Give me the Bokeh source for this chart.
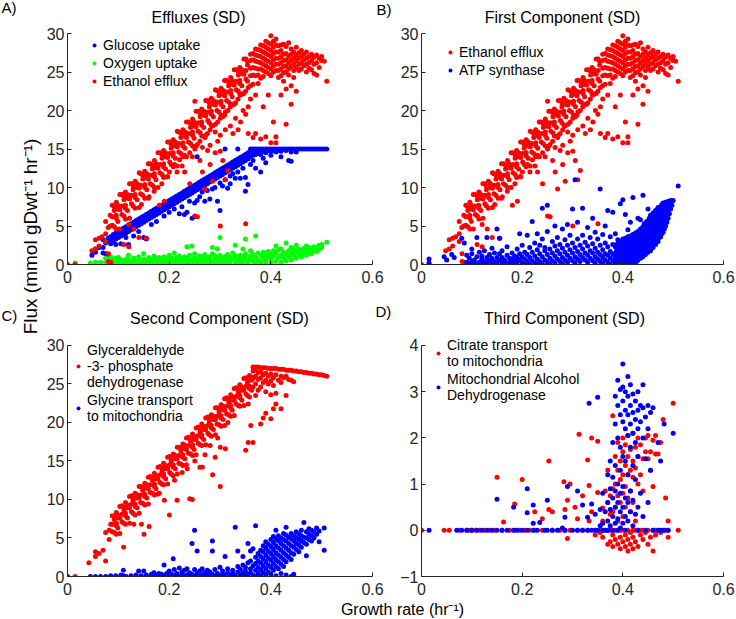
import math
from bokeh.plotting import figure
from bokeh.models import Range1d, FixedTicker, Label, Legend, LegendItem
from bokeh.layouts import column, row
from bokeh.embed import file_html
from bokeh.resources import INLINE

FONT = "Liberation Sans"
RED, BLUE, GREEN = "#ff0000", "#0000ff", "#00ff00"
AX = "#262626"

# ---------------- data ----------------
x_ticks = [0, 0.2, 0.4, 0.6]
x_tick_labels = ["0", "0.2", "0.4", "0.6"]
flux_ticks = [0, 5, 10, 15, 20, 25, 30]
third_ticks = [-1, 0, 1, 2, 3, 4]

titles = ["Effluxes (SD)", "First Component (SD)", "Second Component (SD)", "Third Component (SD)"]
panel_tags = ["A)", "B)", "C)", "D)"]
y_title = "Flux (mmol gDwt\u207b\u00b9 hr\u207b\u00b9)"
x_title = "Growth rate (hr\u207b\u00b9)"

# each entry: (growth rate, [flux values read at that growth rate])
ethanol_cols = [
 (0.000,[0.0]),(0.015,[0.0]),(0.048,[1.8]),(0.055,[2.0,3.2]),(0.062,[3.4,2.4]),(0.068,[3.6]),
 (0.075,[5.6,4.0,3.0]),(0.080,[4.8]),(0.084,[6.4,5.0]),
 (0.088,[7.7,6.2,5.1]),(0.092,[7.5,7.0,4.9]),(0.096,[8.1,6.4,6.0,4.6]),(0.099,[7.7,7.2,5.6]),(0.103,[9.1,7.1,4.6]),
 (0.107,[9.1,7.6,6.5]),(0.111,[8.9,8.4,6.3]),(0.114,[9.4,7.7,7.3,5.9]),(0.118,[9.1,8.6,7.0]),(0.122,[10.5,8.5,6.0]),
 (0.126,[10.5,9.0,7.9]),(0.129,[10.2,9.7,7.6]),(0.133,[10.8,9.1,8.7,7.3]),(0.137,[10.5,10.0,8.4]),(0.141,[11.9,9.9,7.4]),
 (0.144,[11.8,10.3,9.2]),(0.148,[11.6,11.1,9.0]),(0.152,[12.1,10.4,10.0,8.6]),(0.156,[11.8,11.3,9.7]),(0.159,[13.1,11.1,8.6]),
 (0.163,[13.1,11.6,10.5]),(0.167,[12.9,12.4,10.3]),(0.171,[13.5,11.8,11.4,10.0]),(0.174,[13.1,12.6,11.0]),(0.178,[14.5,12.5,10.0]),
 (0.182,[14.5,13.0,11.9]),(0.186,[14.3,13.8,11.7]),(0.189,[14.8,13.1,12.7,11.3]),(0.193,[14.5,14.0,12.4]),(0.197,[15.9,13.9,11.4]),
 (0.201,[15.9,14.4,13.3]),(0.204,[15.6,15.1,13.0]),(0.208,[16.2,14.5,14.1,12.7]),(0.212,[15.9,15.4,13.8]),(0.216,[17.3,15.3,12.8]),
 (0.219,[17.2,15.7,14.6]),(0.223,[17.0,16.5,14.4]),(0.227,[17.5,15.8,15.4,14.0]),(0.231,[17.2,16.7,15.1]),(0.234,[18.5,16.5,14.0]),
 (0.238,[18.5,17.0,15.9]),(0.242,[18.3,17.8,15.7]),(0.246,[18.9,17.2,16.8,15.4]),(0.249,[18.5,18.0,16.4]),(0.253,[19.9,17.9,15.4]),
 (0.257,[19.9,18.4,17.3]),(0.261,[19.7,19.2,17.1]),(0.264,[20.2,18.5,18.1,16.7]),(0.268,[19.9,19.4,17.8]),(0.272,[21.3,19.3,16.8]),
 (0.276,[21.3,19.8,18.7]),(0.279,[21.0,20.5,18.4]),(0.283,[21.6,19.9,19.5,18.1]),(0.287,[21.3,20.8,19.2]),(0.291,[22.7,20.7,18.2]),
 (0.294,[22.6,21.1,20.0]),(0.298,[22.4,21.9,19.8]),(0.302,[22.9,21.2,20.8,19.4]),(0.306,[22.6,22.1,20.5]),(0.309,[23.9,21.9,19.4]),
 (0.313,[23.9,22.4,21.3]),(0.317,[23.7,23.2,21.1]),(0.321,[24.3,22.6,22.2,20.8]),(0.324,[23.9,23.4,21.8]),(0.328,[25.3,23.3,20.8]),
 (0.332,[25.3,23.8,22.7]),(0.336,[25.1,24.6,22.5]),(0.339,[25.6,23.9,23.5,22.1]),(0.343,[25.3,24.8,23.2]),(0.347,[26.7,24.7,22.2]),
 (0.351,[26.7,25.2,24.1]),(0.354,[26.4,25.9,23.8]),
 (0.0805,[0.4,1.4]),(0.0855,[0.3]),(0.1105,[2.6]),(0.1205,[2.3,5.2]),(0.1305,[4.6]),(0.1405,[3.5]),(0.1455,[7.8]),(0.1555,[3.4]),
 (0.1605,[8.8]),(0.1705,[9.5]),(0.1805,[7.7]),(0.1855,[10.5]),(0.1905,[8.2]),(0.1955,[11.4]),(0.2005,[12.0]),(0.2105,[13.0]),
 (0.2155,[12.0]),(0.2205,[13.6]),(0.2255,[12.8]),(0.2305,[14.2,12.0]),(0.2405,[14.5,10.5]),(0.2455,[14.0]),(0.2505,[21.2,15.0,6.3]),
 (0.2555,[15.6,6.2]),(0.2605,[16.0,13.5]),(0.2655,[15.2,12.0]),(0.2705,[16.5,9.8]),(0.2755,[17.0,14.8]),(0.2805,[17.5,15.5,13.0]),
 (0.2855,[18.0,10.8]),(0.2905,[17.2,14.5]),(0.2955,[18.5,16.0]),(0.3005,[19.0,16.8,14.7,5.0]),(0.3055,[19.2,13.5]),
 (0.3105,[19.8,17.5,11.0]),(0.3155,[20.0,12.2]),(0.3205,[20.5,18.0]),(0.3255,[20.8,17.0]),(0.3305,[21.0,19.0]),(0.3355,[21.5,17.5]),
 (0.3405,[22.0,18.5]),(0.3455,[22.2,20.0]),(0.3505,[22.5,19.5,5.3]),(0.3555,[23.0,20.5,17.0]),
 (0.360,[27.3,26.5,25.5,24.5,23.2,21.5]),(0.365,[27.4,26.6,25.6,24.6,23.4,16.5]),(0.370,[28.0,27.2,26.4,25.5,24.5,22.0,17.0]),
 (0.375,[27.9,27.1,26.3,25.4,24.6,23.5]),(0.380,[28.5,27.8,27.0,26.2,25.4,24.2,16.3]),(0.385,[28.4,27.6,26.8,26.0,25.2,24.4,20.5]),
 (0.390,[29.0,28.2,27.4,26.6,25.8,25.0,16.6]),(0.395,[28.8,28.0,27.2,26.4,25.6,24.8,22.0]),
 (0.400,[29.7,28.6,27.8,27.0,26.2,25.4,24.5,15.8]),(0.405,[29.0,28.2,27.4,26.6,25.8,25.0,18.5]),
 (0.410,[29.3,28.5,27.6,26.8,26.0,25.2,15.8,16.6]),(0.415,[28.4,27.6,26.8,26.0,25.2,24.3]),(0.420,[28.5,27.8,27.0,26.2,25.4,24.5,22.0]),
 (0.425,[28.6,27.3,26.5,25.7,24.9,23.8]),(0.430,[28.3,27.4,26.6,25.8,25.0,22.8,18.2]),(0.435,[28.8,27.0,26.2,25.4,24.6]),
 (0.440,[28.0,27.3,26.5,25.7,20.8,23.2]),(0.445,[27.6,26.8,26.0,25.2,24.3]),(0.450,[28.2,27.2,26.5,25.6,22.5]),
 (0.455,[27.5,26.8,26.0,25.2]),(0.460,[27.8,27.0,26.2,25.4]),(0.465,[27.3,26.6,25.8]),(0.470,[27.6,26.8,26.0,25.0]),
 (0.475,[27.0,26.2,25.5]),(0.480,[27.3,26.5,25.3]),(0.485,[26.9,26.0,24.8]),(0.490,[27.2,26.2,24.6]),(0.495,[26.8,25.6]),
 (0.500,[27.0,26.5]),(0.505,[26.4]),(0.510,[23.8]),
]

glucose_cols = [
 (0.015,[0.0]),(0.048,[1.2]),(0.055,[1.6,2.0]),(0.062,[2.2]),(0.070,[2.2,1.5,3.2]),(0.075,[2.8,1.4]),
 (0.080,[3.0,3.4,1.2]),(0.085,[3.3,3.6,2.7]),(0.090,[3.5,3.9,3.0]),(0.095,[3.7,4.1,3.3,2.6]),(0.100,[3.9,4.3,3.5]),
 (0.105,[4.1,4.5,3.7,2.7]),(0.110,[4.3,4.7,3.9]),(0.115,[4.5,4.9,4.1,3.5]),(0.120,[4.7,5.1,4.3,2.6]),(0.125,[4.9,5.3,4.5]),
 (0.130,[5.1,5.5,4.7,3.7]),(0.135,[5.3,5.7,4.9]),(0.140,[5.5,5.9,5.1,4.3]),(0.145,[5.7,6.1,5.3]),(0.150,[5.9,6.3,5.5,3.5]),
 (0.155,[6.1,6.5,5.7,3.3]),(0.160,[6.3,6.7,5.9]),(0.165,[6.5,6.9,6.1,5.2]),(0.170,[6.7,7.1,6.3]),(0.175,[6.9,7.3,6.5,5.6]),
 (0.180,[7.1,7.5,6.7]),(0.185,[7.3,7.7,6.9]),(0.190,[7.5,7.9,7.1,6.3]),(0.195,[7.7,8.1,7.3]),(0.200,[7.9,8.3,7.5,6.8]),
 (0.205,[8.1,8.5,7.7]),(0.210,[8.3,8.7,7.9,7.2]),(0.215,[8.5,8.9,8.1]),(0.220,[8.7,9.1,8.3,6.6]),(0.225,[8.9,9.3,8.5,7.5]),
 (0.230,[9.1,9.5,8.7,6.5]),(0.235,[9.3,9.7,8.9,6.8]),(0.240,[9.5,9.9,9.1,8.2]),(0.245,[9.7,10.1,9.3,6.0]),(0.250,[9.9,10.3,9.5,8.0,6.2]),
 (0.255,[10.1,10.5,9.7,14.0,8.3]),(0.260,[10.3,10.7,9.9,8.8]),(0.265,[10.5,10.9,10.1,9.4]),(0.270,[10.7,11.1,10.3,8.2]),
 (0.275,[10.9,11.3,10.5,9.6]),(0.280,[11.1,11.5,10.7,8.5]),(0.285,[11.3,11.7,10.9,9.8]),(0.290,[11.5,11.9,11.1,10.0]),
 (0.295,[11.7,12.1,11.3,8.2]),(0.300,[11.9,12.3,11.5,10.6,7.0]),(0.305,[12.1,12.5,11.7,10.2]),(0.310,[12.3,12.7,11.9,15.0,11.0]),
 (0.315,[12.5,12.9,12.1,9.9]),(0.320,[12.7,13.1,12.3,10.5,11.5]),(0.325,[12.9,13.3,12.5,11.8]),(0.330,[13.1,13.5,12.7,11.2]),
 (0.335,[13.3,13.7,12.9,15.0,12.0]),(0.340,[13.5,13.9,13.1,11.2]),(0.345,[13.7,14.1,13.3,12.5]),(0.350,[13.9,14.3,13.5,9.5,11.3]),
 (0.355,[14.1,14.5,13.7,10.4]),(0.360,[14.6,15.0,14.0,13.0]),(0.365,[15.0,14.6,14.2,13.5]),(0.370,[15.0,14.7,14.3,12.5]),
 (0.375,[15.0,14.8,14.4]),(0.380,[15.0,14.8,14.3,12.0]),(0.385,[15.0,14.7,13.8]),(0.390,[15.0,14.8,14.5,13.2]),(0.395,[15.0,14.8]),
 (0.400,[15.0,14.7,14.2]),(0.405,[15.0,14.8]),(0.410,[15.0,14.6]),(0.415,[15.0,14.8]),(0.420,[15.0,14.7,14.0]),(0.425,[15.0]),
 (0.430,[15.0,14.8]),(0.435,[15.0,13.5]),(0.440,[15.0,14.6,13.4]),(0.445,[15.0]),(0.450,[15.0,14.6]),(0.455,[15.0]),(0.460,[15.0]),
 (0.465,[15.0]),(0.470,[15.0]),(0.475,[15.0]),(0.480,[15.0]),(0.485,[15.0]),(0.490,[15.0]),(0.495,[15.0]),(0.500,[15.0]),
 (0.505,[15.0]),(0.510,[15.0]),
]

oxygen_cols = [
 (0.015,[0.2]),(0.045,[0.2]),(0.055,[0.3]),(0.065,[0.3]),(0.075,[0.2,0.8]),(0.080,[0.5]),(0.085,[0.3,1.0,0.0]),
 (0.090,[0.6,0.1]),(0.095,[0.2,0.8]),(0.100,[0.4,0.0,0.9]),(0.105,[0.2,0.6]),(0.110,[0.5,0.1,0.3]),(0.115,[0.7,0.0,0.4]),
 (0.120,[0.2,1.2,0.6]),(0.125,[0.4,0.0]),(0.130,[0.8,0.2,0.5]),(0.135,[0.3,0.1]),(0.140,[0.6,0.0,1.0]),(0.145,[0.2,0.4]),
 (0.150,[0.7,0.1,1.4]),(0.155,[0.3,0.5]),(0.160,[0.9,0.0,0.2]),(0.165,[0.4,0.6]),(0.170,[0.2,0.8,1.1]),(0.175,[0.5,0.0]),
 (0.180,[0.3,0.9,0.1]),(0.185,[0.6,0.2]),(0.190,[1.0,0.4,0.0]),(0.195,[0.2,0.7]),(0.200,[0.5,1.2,0.1]),(0.205,[0.3,0.8]),
 (0.210,[0.6,0.0,1.5]),(0.215,[0.2,0.9]),(0.220,[0.4,1.1,0.0]),(0.225,[0.7,0.2]),(0.230,[0.3,1.0,0.5]),(0.235,[0.8,0.1,2.3]),
 (0.240,[0.4,1.2,0.0]),(0.245,[0.6,0.2,2.4]),(0.250,[0.9,0.3,1.4]),(0.255,[0.5,0.0]),(0.260,[0.7,1.1,0.2]),(0.265,[0.3,0.9]),
 (0.270,[0.6,1.3,0.1]),(0.275,[0.4,0.8]),(0.280,[1.0,0.2,0.6]),(0.285,[0.3,1.4,2.2]),(0.290,[0.7,0.0,1.1]),(0.295,[0.5,0.9,2.0]),
 (0.300,[0.2,1.2,3.5]),(0.305,[0.8,0.4]),(0.310,[0.6,1.0,0.1]),(0.315,[0.3,1.3]),(0.320,[0.9,0.5,0.0]),(0.325,[0.7,1.5]),
 (0.330,[0.2,1.1,2.5]),(0.335,[0.8,0.4]),(0.340,[1.2,0.6,0.0]),(0.345,[0.3,1.0,2.0]),(0.350,[0.8,1.4,3.3]),(0.355,[0.5,0.1]),
 (0.360,[1.1,0.7,1.8]),(0.365,[0.4,1.3]),(0.370,[0.9,0.2,3.7]),(0.375,[0.6,1.5]),(0.380,[1.2,0.3,0.0]),(0.385,[0.8,1.6]),
 (0.390,[0.5,1.3,0.1]),(0.395,[1.0,1.7]),(0.400,[0.7,0.2,1.4]),(0.405,[1.1,1.8]),(0.410,[0.4,1.5,2.4]),(0.415,[0.9,1.9]),
 (0.420,[0.3,1.2,2.0]),(0.425,[1.6,0.8]),(0.430,[0.5,1.4,2.8]),(0.435,[1.0,1.8]),(0.440,[0.6,1.5,2.2]),(0.445,[1.2,1.9]),
 (0.450,[0.8,1.6,2.5]),(0.455,[1.3,2.0]),(0.460,[1.0,1.7]),(0.465,[1.4,2.1]),(0.470,[1.2,1.8,2.4]),(0.475,[1.6,2.2]),
 (0.480,[1.4,2.0]),(0.485,[1.8,2.3]),(0.490,[1.7,2.2]),(0.495,[2.0,2.5]),(0.500,[2.2,2.6]),(0.510,[2.9]),
]

atp_cols = [
 (0.015,[0.7,0.2]),(0.045,[1.0]),(0.050,[0.6]),(0.060,[1.3]),(0.065,[0.9]),(0.080,[3.4]),(0.085,[2.8]),
 (0.090,[0.3,1.2,0.0]),(0.095,[0.8,0.1]),(0.100,[1.4,0.4,0.0,2.0]),(0.105,[0.6,0.2]),(0.110,[1.0,0.0,3.5]),(0.115,[0.3,1.6]),
 (0.120,[0.7,0.1,1.1]),(0.125,[0.4,1.8,0.0]),(0.130,[0.9,0.2,3.5]),(0.135,[0.5,1.3]),(0.140,[0.1,0.8,2.1]),(0.145,[0.4,1.5,0.0]),
 (0.150,[0.9,0.2,4.6]),(0.155,[1.4,0.5,3.4]),(0.160,[0.1,0.9,1.8]),(0.165,[0.6,0.3]),(0.170,[1.2,0.0,2.3]),(0.175,[0.4,0.8]),
 (0.180,[1.5,0.2,0.7]),(0.185,[0.5,1.1,0.0]),(0.190,[0.9,2.0,0.3]),(0.195,[0.6,1.4,4.0]),(0.200,[0.2,1.0,2.5]),(0.205,[0.7,1.6,0.0]),
 (0.210,[0.4,1.3,3.8]),(0.215,[0.9,2.2,0.1]),(0.220,[0.5,1.6,5.6]),(0.225,[1.1,0.2,2.8]),(0.230,[0.7,1.9,0.0,4.0]),(0.235,[0.4,1.4,2.5]),
 (0.240,[1.0,0.1,7.3,3.3]),(0.245,[0.6,1.8,2.2]),(0.250,[1.3,0.3,7.7,4.3]),(0.255,[0.8,2.0,0.0]),(0.260,[0.5,1.5,3.0]),
 (0.265,[1.1,0.2,2.4,5.0]),(0.270,[0.7,1.8,3.5]),(0.275,[1.4,0.4,2.6]),(0.280,[0.9,2.1,0.1,4.6]),(0.285,[0.6,1.6,3.2]),
 (0.290,[1.2,0.3,2.5,5.2]),(0.295,[0.8,1.9,3.8]),(0.300,[1.5,0.5,2.8,7.2]),(0.305,[1.0,2.2,11.0,0.2]),(0.310,[0.7,1.7,3.3,5.5]),
 (0.315,[1.3,0.4,2.5]),(0.320,[0.9,2.0,3.8,7.3]),(0.325,[0.6,1.5,2.9]),(0.330,[1.2,0.3,2.4,4.8]),(0.335,[0.8,1.8,3.5]),
 (0.340,[1.5,0.5,2.7,6.0]),(0.345,[1.0,2.1,0.2,4.2]),(0.350,[0.7,1.6,3.3]),(0.355,[1.3,0.4,2.5,9.8]),(0.360,[0.9,1.9,3.9,0.1]),
 (0.365,[0.6,1.4,2.8,5.0]),(0.370,[1.2,0.3,2.3,7.0]),(0.375,[0.8,1.7,3.6,0.0]),(0.380,[0.5,1.3,2.6,6.8]),
 (0.385,[0.2,0.8,1.5,2.3,4.0]),(0.3875,[0.0,0.5,1.1,1.8,2.6]),(0.390,[0.3,0.9,1.6,2.4,3.2]),(0.3925,[0.1,0.7,1.3,2.0,2.8]),
 (0.395,[0.4,1.0,1.7,2.5,3.0,7.9]),(0.3975,[0.1,0.8,1.4,2.1,2.9]),(0.400,[0.0,0.5,1.1,1.8,2.6,3.3,8.4]),(0.4025,[0.2,0.9,1.5,2.2,3.0]),
 (0.405,[0.0,0.6,1.2,1.9,2.7,3.4,6.5]),(0.4075,[0.3,1.0,1.6,2.3,3.1]),(0.410,[0.1,0.7,1.3,2.0,2.8,3.6,4.5]),(0.4125,[0.4,1.1,1.7,2.5,3.3]),
 (0.415,[0.0,0.8,1.4,2.1,2.9,3.7,5.5]),(0.4175,[0.5,1.2,1.9,2.6,3.4]),(0.420,[0.2,0.9,1.6,2.3,3.1,3.9,8.7]),(0.4225,[0.6,1.3,2.0,2.8,3.6]),
 (0.425,[0.1,1.0,1.7,2.5,3.3,4.1]),(0.4275,[0.4,1.4,2.2,3.0,3.8]),(0.430,[0.6,1.2,1.9,2.7,3.5,4.3,6.0]),(0.4325,[0.9,1.6,2.4,3.2,4.0]),
 (0.435,[0.8,1.5,2.2,3.0,3.8,4.6,5.8]),(0.4375,[1.1,1.9,2.7,3.5,4.3]),(0.440,[1.0,1.7,2.5,3.3,4.1,4.9,9.0]),(0.4425,[1.4,2.2,3.0,3.8,4.6,5.3]),
 (0.445,[1.3,2.0,2.8,3.6,4.4,5.2]),(0.4475,[1.7,2.5,3.3,4.1,4.9,5.6]),(0.450,[1.6,2.4,3.2,4.0,4.8,5.6,7.2]),(0.4525,[2.0,2.8,3.6,4.4,5.2,6.0]),
 (0.455,[1.8,2.7,3.5,4.3,5.1,5.9,6.4]),(0.4575,[2.3,3.1,3.9,4.7,5.5,6.3]),(0.460,[2.2,3.0,3.8,4.6,5.4,6.2,6.7]),(0.4625,[2.7,3.5,4.3,5.1,5.9,6.6]),
 (0.465,[2.6,3.4,4.2,5.0,5.8,6.6,7.0]),(0.4675,[3.1,3.9,4.7,5.5,6.3,7.1]),(0.470,[3.0,3.8,4.6,5.4,6.2,7.0,7.4]),(0.4725,[3.5,4.3,5.1,5.9,6.7,7.3]),
 (0.475,[3.6,4.4,5.2,6.0,6.8,7.5]),(0.4775,[4.0,4.8,5.6,6.4,7.2,7.8]),(0.480,[4.2,5.0,5.8,6.6,7.4,8.0]),(0.4825,[4.6,5.4,6.2,7.0,7.8]),
 (0.485,[5.0,5.8,6.6,7.4,8.1]),(0.4875,[5.5,6.3,7.1,7.8]),(0.490,[6.0,6.8,7.6,8.2]),(0.4925,[6.6,7.4,8.0]),(0.495,[7.2,7.9,8.3]),
 (0.4975,[7.7,8.2]),(0.500,[8.3]),(0.510,[10.2]),
]

gapdh_cols = [
 (0.015,[0.0]),(0.042,[1.8]),(0.055,[3.2,2.6]),(0.062,[3.0]),(0.070,[3.4]),(0.075,[5.7,2.0]),(0.082,[6.0,4.8]),(0.085,[6.8]),
 (0.088,[7.9,6.8,5.8]),(0.092,[7.8,7.4,5.7]),(0.096,[8.3,6.9,6.6,5.5]),(0.099,[8.0,7.6,6.3]),(0.103,[9.1,7.6,5.6]),
 (0.107,[9.2,8.1,7.1]),(0.111,[9.0,8.6,6.9]),(0.114,[9.6,8.2,7.9,6.8]),(0.118,[9.3,8.9,7.6]),(0.122,[10.4,8.9,6.9]),
 (0.126,[10.5,9.4,8.4]),(0.129,[10.3,9.9,8.2]),(0.133,[10.8,9.4,9.1,8.0]),(0.137,[10.6,10.2,8.9]),(0.141,[11.7,10.2,8.2]),
 (0.144,[11.7,10.6,9.6]),(0.148,[11.6,11.2,9.5]),(0.152,[12.1,10.7,10.4,9.3]),(0.156,[11.9,11.5,10.2]),(0.159,[12.9,11.4,9.4]),
 (0.163,[13.0,11.9,10.9]),(0.167,[12.9,12.5,10.8]),(0.171,[13.4,12.0,11.7,10.6]),(0.174,[13.1,12.7,11.4]),(0.178,[14.2,12.7,10.7]),
 (0.182,[14.3,13.2,12.2]),(0.186,[14.1,13.7,12.0]),(0.189,[14.7,13.3,13.0,11.9]),(0.193,[14.4,14.0,12.7]),(0.197,[15.5,14.0,12.0]),
 (0.201,[15.6,14.5,13.5]),(0.204,[15.4,15.0,13.3]),(0.208,[15.9,14.5,14.2,13.1]),(0.212,[15.7,15.3,14.0]),(0.216,[16.8,15.3,13.3]),
 (0.219,[16.8,15.7,14.7]),(0.223,[16.7,16.3,14.6]),(0.227,[17.2,15.8,15.5,14.4]),(0.231,[17.0,16.6,15.3]),(0.234,[18.0,16.5,14.5]),
 (0.238,[18.1,17.0,16.0]),(0.242,[18.0,17.6,15.9]),(0.246,[18.5,17.1,16.8,15.7]),(0.249,[18.2,17.8,16.5]),(0.253,[19.3,17.8,15.8]),
 (0.257,[19.4,18.3,17.3]),(0.261,[19.2,18.8,17.1]),(0.264,[19.8,18.4,18.1,17.0]),(0.268,[19.5,19.1,17.8]),(0.272,[20.6,19.1,17.1]),
 (0.276,[20.7,19.6,18.6]),(0.279,[20.5,20.1,18.4]),(0.283,[21.0,19.6,19.3,18.2]),(0.287,[20.8,20.4,19.1]),(0.291,[21.9,20.4,18.4]),
 (0.294,[21.9,20.8,19.8]),(0.298,[21.8,21.4,19.7]),(0.302,[22.3,20.9,20.6,19.5]),(0.306,[22.1,21.7,20.4]),(0.309,[23.1,21.6,19.6]),
 (0.313,[23.2,22.1,21.1]),(0.317,[23.1,22.7,21.0]),(0.321,[23.6,22.2,21.9,20.8]),(0.324,[23.3,22.9,21.6]),(0.328,[24.4,22.9,20.9]),
 (0.332,[24.5,23.4,22.4]),(0.336,[24.3,23.9,22.2]),(0.339,[24.9,23.5,23.2,22.1]),(0.343,[24.6,24.2,22.9]),(0.347,[25.7,24.2,22.2]),
 (0.351,[25.8,24.7,23.7]),(0.354,[25.6,25.2,23.5]),(0.358,[26.1,24.7,24.4,23.3]),(0.362,[25.9,25.5,24.2]),
 (0.1105,[3.8]),(0.1305,[6.8]),(0.1455,[6.8]),(0.1505,[5.5]),(0.1605,[6.5]),(0.1805,[10.8]),(0.1905,[9.9]),(0.2005,[8.0]),
 (0.2105,[12.5]),(0.2155,[9.9]),(0.2255,[13.5]),(0.2355,[14.0]),(0.2405,[10.1]),(0.2455,[10.0]),(0.2505,[15.0]),(0.2605,[14.2]),
 (0.2655,[14.2]),(0.2705,[15.8]),(0.2805,[17.0]),(0.2855,[13.2]),(0.2905,[15.5]),(0.2955,[18.0]),(0.3005,[16.8,11.7]),
 (0.3105,[16.6]),(0.3155,[20.0]),(0.3505,[16.4]),(0.3555,[17.4,22.4]),(0.3605,[19.6]),
 (0.365,[27.2,26.7,25.7,24.6,17.4]),(0.370,[27.2,26.8,26.0,25.0,23.5]),(0.375,[27.2,26.5,25.6,24.2]),(0.380,[27.1,26.6,25.8,24.6,19.8]),
 (0.385,[27.1,26.2,25.2,20.6]),(0.390,[27.1,26.4,25.5,24.0,21.2]),(0.395,[27.0,26.0,25.0]),(0.400,[27.0,26.3,25.4,23.6,20.5]),
 (0.405,[27.0,25.8,24.8,21.8]),(0.410,[27.0,26.2,22.4,23.8]),(0.415,[26.9,25.5]),(0.420,[26.9,26.0,25.2,21.8]),(0.425,[26.9,25.8]),
 (0.430,[26.8,26.0,23.5]),(0.435,[26.8,25.6]),(0.440,[26.8,25.5]),(0.445,[26.7,25.3]),(0.450,[26.7]),(0.455,[26.6]),(0.460,[26.6]),
 (0.465,[26.5]),(0.470,[26.5]),(0.475,[26.4]),(0.480,[26.4]),(0.485,[26.3]),(0.490,[26.3]),(0.495,[26.2]),(0.500,[26.2]),
 (0.505,[26.1]),(0.510,[26.0]),
]

glycine_cols = [
 (0.000,[0.0]),(0.045,[0.0]),(0.055,[0.0]),(0.065,[0.0]),(0.075,[0.0]),(0.085,[0.0,0.1]),(0.095,[0.0,0.1]),(0.105,[0.0,0.2]),
 (0.110,[0.8,0.1]),(0.115,[0.0]),(0.125,[0.1,0.0]),(0.135,[0.2,0.0]),(0.140,[0.7]),(0.145,[0.1,0.0]),(0.150,[0.7]),
 (0.155,[0.2,0.0]),(0.165,[0.1,0.3]),(0.170,[0.5,0.0]),(0.175,[0.2]),(0.180,[0.0,0.4]),(0.185,[0.1,0.3]),(0.190,[1.5,0.0]),
 (0.195,[0.4,0.1]),(0.200,[0.0,0.7]),(0.205,[0.3,0.1]),(0.208,[2.3]),(0.210,[0.9,0.0]),(0.215,[0.4,0.2]),(0.220,[1.1,0.0]),
 (0.225,[0.3,0.6]),(0.230,[0.1,0.8]),(0.235,[1.0,0.2]),(0.240,[0.0,0.5]),(0.245,[4.3,0.3]),(0.250,[6.0,0.9,0.1]),(0.255,[3.3,0.4]),
 (0.260,[0.0,0.7]),(0.265,[0.2,1.0]),(0.270,[0.5,0.0]),(0.275,[0.8,0.2]),(0.280,[0.1,0.6]),(0.285,[4.6,3.3,0.3]),(0.290,[0.0,0.9]),
 (0.295,[0.4,0.2]),(0.300,[1.2,0.0]),(0.305,[0.3,0.7]),(0.310,[2.6,0.1]),(0.315,[0.5,1.0]),(0.320,[0.2,0.0]),(0.325,[0.8,0.4]),
 (0.330,[6.4,0.1]),(0.335,[3.3,0.6,1.3]),(0.340,[0.2,0.9]),(0.345,[2.6,0.4,1.5]),(0.350,[0.1,0.7,1.2]),(0.355,[4.3,0.3,1.8]),
 (0.360,[3.3,0.5,1.0,2.0]),(0.365,[3.6,0.2,1.4]),(0.370,[6.6,0.0,0.8,1.7,2.5]),(0.375,[0.4,1.2,2.0,3.0]),(0.380,[0.1,0.9,1.8,2.6,3.4]),
 (0.385,[0.5,1.4,2.3,3.2,4.0]),(0.390,[0.2,1.0,1.9,2.8,3.7,4.5]),(0.395,[0.6,1.5,2.4,3.3,4.2]),(0.400,[0.3,1.2,2.1,3.0,3.9,4.8]),
 (0.405,[0.8,1.7,2.6,3.5,4.4,5.2]),(0.410,[0.1,1.3,2.2,3.1,4.0,4.9,6.0]),(0.415,[1.0,1.9,2.8,3.7,4.6,5.3]),(0.420,[0.4,1.6,2.5,3.4,4.3,5.0]),
 (0.425,[1.3,2.2,3.1,4.0,4.8,5.6]),(0.430,[0.2,1.9,2.8,3.7,4.6,5.4,6.4]),(0.435,[2.5,3.4,4.3,5.1]),(0.440,[0.0,2.2,3.1,4.0,4.9,5.6]),
 (0.445,[2.9,3.8,4.6,5.3,0.3]),(0.450,[3.5,4.3,5.0,5.8]),(0.455,[3.2,4.1,4.8,5.5]),(0.460,[3.8,4.6,5.3,6.0]),(0.465,[4.4,5.1,7.0]),
 (0.470,[4.2,5.0,5.8,2.7]),(0.475,[4.8,5.5,6.2]),(0.480,[4.6,5.3,6.0]),(0.485,[5.0,5.8]),(0.490,[6.3,5.5]),(0.495,[4.5,5.9]),
 (0.505,[3.4,6.3]),
]

citrate_cols = [
 (0.000,[0.0]),(0.045,[0.0]),(0.055,[0.0]),(0.075,[0.0]),(0.090,[0.0]),(0.095,[0.0]),(0.100,[0.0]),(0.108,[0.0]),(0.115,[0.0]),
 (0.125,[0.0]),(0.135,[0.0]),(0.145,[0.0]),(0.150,[1.15]),(0.160,[0.0]),(0.163,[0.18]),(0.175,[0.0]),(0.185,[0.57,0.0]),
 (0.195,[0.0]),(0.200,[1.1]),(0.205,[0.0]),(0.215,[0.0]),(0.225,[0.4,0.0]),(0.240,[0.25,0.0]),(0.253,[1.5,0.45]),(0.260,[0.4,0.0]),
 (0.275,[0.0]),(0.283,[1.05]),(0.285,[0.45,0.0]),(0.290,[0.65,-0.18]),(0.295,[1.0,0.0]),(0.305,[0.5]),(0.310,[0.25,0.0]),
 (0.313,[2.08]),(0.320,[0.75,0.0]),(0.330,[1.52,0.0]),(0.333,[0.97,0.2]),(0.338,[2.0,0.4]),(0.345,[-0.1,0.0]),(0.350,[1.93,0.82]),
 (0.355,[0.0,-0.05]),(0.360,[0.48,0.2,-0.15]),(0.365,[0.85,0.0]),(0.370,[0.6,-0.3,0.0,1.3]),(0.375,[0.35,0.75,-0.25,0.0]),
 (0.380,[2.48,0.9,0.4,-0.1,0.0,-0.35]),(0.385,[1.6,1.0,0.5,0.0,-0.2]),(0.390,[1.9,1.3,0.75,0.2,-0.3,0.0]),
 (0.395,[1.5,1.1,0.6,0.0,-0.15,-0.4]),(0.400,[2.0,1.7,1.2,0.8,0.3,0.0,-0.25]),(0.405,[1.85,1.4,0.95,0.5,-0.1,-0.35]),
 (0.410,[2.05,1.6,1.2,0.7,0.0,-0.2,-0.45]),(0.415,[1.75,1.3,0.85,0.4,-0.05,-0.3]),(0.420,[2.1,1.5,1.15,0.6,0.0,-0.15,-0.4]),
 (0.425,[1.8,1.35,0.2,-0.25,0.0]),(0.430,[2.0,1.6,1.0,0.0,-0.35]),(0.435,[1.85,1.2,-0.1,0.0]),(0.440,[1.55,0.85,0.0,-0.2]),
 (0.445,[2.0,1.7,-0.05]),(0.450,[1.55,2.05,0.0,-0.3]),(0.455,[1.7,1.3,-0.15]),(0.460,[1.95,0.95,-0.45,0.0]),
 (0.465,[2.05,1.65,0.0,-0.1]),(0.470,[1.65,0.0]),(0.475,[1.9,-0.05]),(0.480,[2.4,0.0]),(0.485,[0.7,0.0]),(0.490,[0.2,-0.15,0.0]),
 (0.500,[2.75]),(0.510,[0.0]),
]

adh_cols = [
 (0.015,[0.0]),(0.070,[0.0]),(0.080,[0.0]),(0.090,[0.0]),(0.100,[0.0]),(0.110,[0.0]),(0.120,[0.0]),(0.130,[0.0]),(0.140,[0.0]),
 (0.150,[0.67,0.0]),(0.160,[0.0]),(0.170,[0.0]),(0.183,[0.5,0.0]),(0.190,[0.0]),(0.200,[0.0]),(0.210,[0.9,0.38,0.0]),
 (0.222,[0.55,0.15,0.0]),(0.230,[0.0]),(0.235,[0.17]),(0.245,[0.0]),(0.250,[0.65,0.0]),(0.260,[0.0]),(0.270,[0.0]),(0.280,[0.05]),
 (0.285,[0.28,0.0]),(0.290,[0.95]),(0.300,[0.0]),(0.310,[0.85,0.0]),(0.320,[0.55,0.0]),(0.330,[0.28,0.0]),(0.333,[2.75]),
 (0.338,[0.57,0.0]),(0.345,[0.35,0.0]),(0.350,[2.88,0.0]),(0.355,[0.45,0.1]),(0.360,[0.15,0.0,0.8]),(0.365,[0.4,0.0]),
 (0.370,[1.2,0.6,0.2,0.0]),(0.375,[0.9,0.45,0.1,1.5]),(0.380,[1.15,0.7,0.3,0.0,1.9]),(0.385,[1.4,0.85,0.5,0.15,2.3,2.9]),
 (0.390,[3.25,2.7,2.0,1.0,0.6,0.25,0.0]),(0.395,[3.05,2.5,1.8,1.3,0.8,0.4,0.05]),(0.400,[3.6,3.1,2.8,2.35,1.6,0.95,0.5,0.15]),
 (0.405,[3.0,2.6,2.2,1.5,0.7,0.3,0.0]),(0.410,[3.33,2.9,2.5,2.05,1.2,0.6,0.2]),(0.415,[3.15,2.7,2.3,1.8,0.85,0.4]),
 (0.420,[2.95,2.55,2.1,1.4,0.65,0.1]),(0.425,[2.8,2.4,1.9,1.1,0.35]),(0.430,[3.0,2.6,2.2,1.6,0.5,0.0]),(0.435,[2.7,2.35,0.8]),
 (0.440,[3.15,2.65,2.0,0.3]),(0.445,[2.45,1.55,0.0]),(0.450,[2.7,2.2,0.6]),(0.455,[2.55,1.3]),(0.460,[2.65,0.0]),
 (0.470,[1.9,0.0]),(0.475,[1.5,0.0]),(0.482,[2.3,0.0]),(0.490,[0.0]),(0.500,[2.1]),
]


def flatten(cols):
    xs, ys = [], []
    for gx, vals in cols:
        for v in vals:
            xs.append(gx)
            ys.append(v)
    return xs, ys


# ---------------- styling helpers ----------------
def make_panel(w, h, borders, xr, yr, yticks):
    p = figure(width=w, height=h, x_range=Range1d(*xr), y_range=Range1d(*yr),
               output_backend="svg", toolbar_location=None,
               min_border_left=borders[0], min_border_right=borders[1],
               min_border_top=borders[2], min_border_bottom=borders[3])
    p.xgrid.visible = False
    p.ygrid.visible = False
    p.outline_line_color = None
    xa, ya = p.xaxis[0], p.yaxis[0]
    xa.ticker = FixedTicker(ticks=x_ticks)
    xa.major_label_overrides = {t: l for t, l in zip(x_ticks, x_tick_labels)}
    xa.bounds = (x_ticks[0], x_ticks[-1])
    ya.ticker = FixedTicker(ticks=yticks)
    ya.bounds = (yticks[0], yticks[-1])
    for ax in (xa, ya):
        ax.axis_line_color = AX
        ax.major_tick_line_color = AX
        ax.major_tick_in = 4
        ax.major_tick_out = 0
        ax.minor_tick_line_color = None
        ax.major_label_text_font = FONT
        ax.major_label_text_font_size = "16px"
        ax.major_label_text_color = AX
    xa.major_label_standoff = 6
    ya.major_label_standoff = 3
    return p


def dots(p, cols, color):
    xs, ys = flatten(cols)
    return p.scatter(xs, ys, size=5, marker="circle", fill_color=color, line_color=None)


def add_legend(p, pairs, loc, spacing=0, line_height=1.35):
    leg = Legend(items=[LegendItem(label=lab, renderers=[r]) for lab, r in pairs],
                 location=loc, padding=0, margin=0, spacing=spacing,
                 glyph_width=10, glyph_height=18, label_height=18, label_standoff=4,
                 border_line_color=None, background_fill_alpha=0,
                 label_text_font=FONT, label_text_font_size="14px",
                 label_text_line_height=line_height, label_text_color="#000000")
    p.add_layout(leg)


def add_text(p, x, y, text, size="16px", align="center", baseline="middle", angle=0.0):
    p.add_layout(Label(x=x, y=y, x_units="screen", y_units="screen", text=text,
                       text_font=FONT, text_font_size=size, text_align=align,
                       text_baseline=baseline, angle=angle, text_color="#000000"))


# frames reach the top/right canvas edges so that titles, tags and legends sit inside them
A_XR = (0.0, 0.63934)
B_XR = (0.0, 0.62583)

# A
pA = make_panel(350, 300, (25, 0, 0, 36), A_XR, (0.0, 34.286), flux_ticks)
rg = dots(pA, glucose_cols, BLUE)
ro = dots(pA, oxygen_cols, GREEN)
re = dots(pA, ethanol_cols, RED)
add_legend(pA, [("Glucose uptake", rg), ("Oxygen uptake", ro), ("Ethanol efflux", re)], (22, 174))
add_text(pA, 131, 247, titles[0])
add_text(pA, 309, 264, panel_tags[1], size="15px", align="left", baseline="top")

# B
pB = make_panel(344, 300, (29, 0, 0, 36), B_XR, (0.0, 34.286), flux_ticks)
re2 = dots(pB, ethanol_cols, RED)
ra = dots(pB, atp_cols, BLUE)
add_legend(pB, [("Ethanol efflux", re2), ("ATP synthase", ra)], (24, 185))
add_text(pB, 141, 247, titles[1])

# C
pC = make_panel(350, 301, (25, 0, 0, 25), A_XR, (0.0, 35.844), flux_ticks)
rgap = dots(pC, gapdh_cols, RED)
rgly = dots(pC, glycine_cols, BLUE)
add_legend(pC, [("Glyceraldehyde\n-3- phosphate\ndehydrogenase", rgap),
                ("Glycine transport\nto mitochondria", rgly)], (6, 152), spacing=2, line_height=1.42)
add_text(pC, 152, 258, titles[2])
add_text(pC, 308, 274, panel_tags[3], size="15px", align="left", baseline="top")

# D
pD = make_panel(344, 301, (29, 0, 0, 25), B_XR, (-1.0, 4.974), third_ticks)
rcit = dots(pD, citrate_cols, RED)
radh = dots(pD, adh_cols, BLUE)
add_legend(pD, [("Citrate transport\nto mitochondria", rcit),
                ("Mitochondrial Alcohol\nDehydrogenase", radh)], (12, 173), spacing=2, line_height=1.42)
add_text(pD, 143, 258, titles[3])


def strip(w, h):
    s = figure(width=w, height=h, x_range=Range1d(0, 1), y_range=Range1d(0, 1),
               output_backend="svg", toolbar_location=None,
               x_axis_location=None, y_axis_location=None,
               min_border_left=0, min_border_right=0, min_border_top=0, min_border_bottom=0)
    s.xgrid.visible = False
    s.ygrid.visible = False
    s.outline_line_color = None
    return s


sL = strip(42, 601)
add_text(sL, 30, 365, y_title, size="19px", angle=math.pi / 2)
add_text(sL, 1, 603, panel_tags[0], size="15px", align="left", baseline="top")
add_text(sL, 1, 295, panel_tags[2], size="15px", align="left", baseline="top")

sB = strip(736, 18)
add_text(sB, 402, 10, x_title)

layout = column(row(sL, column(row(pA, pB), row(pC, pD))), sB)

open("out.html", "w").write(file_html(layout, INLINE))
